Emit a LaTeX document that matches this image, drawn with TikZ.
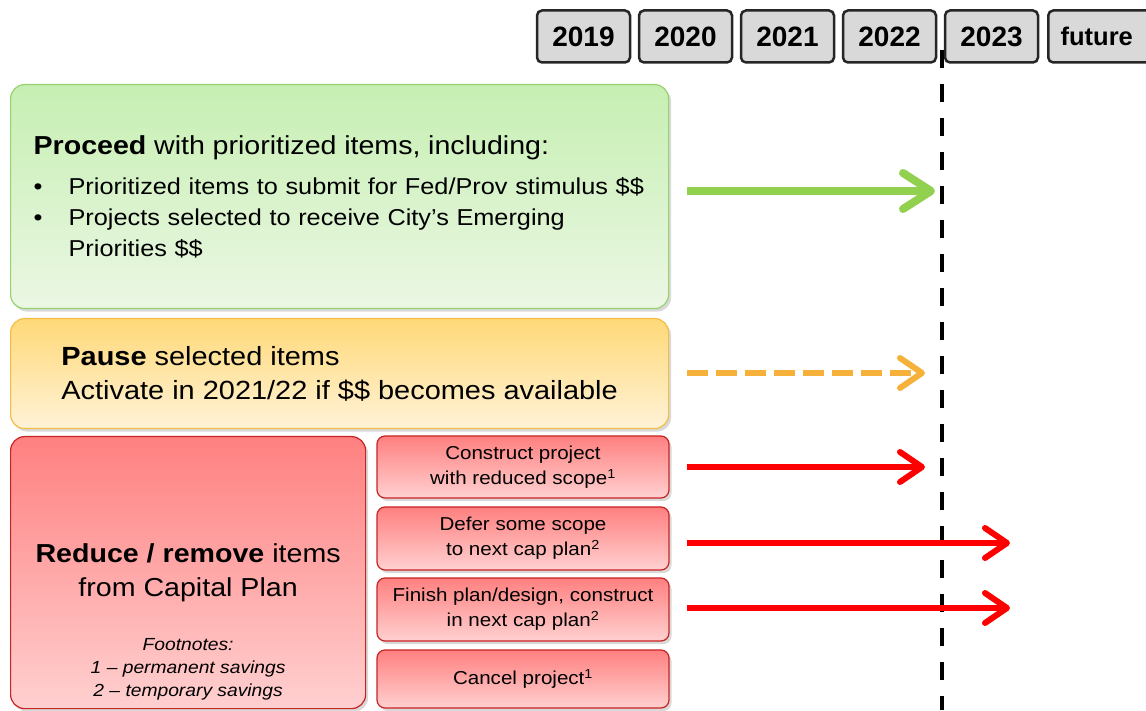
\documentclass[tikz,border=0pt]{standalone}
\usepackage{fontspec}
\setmainfont{Liberation Sans}
\newfontfamily\widesans{Liberation Sans}[FakeStretch=1.1, Ligatures=TeX]
\usetikzlibrary{arrows.meta, shadows}
\definecolor{yeargray}{RGB}{217,217,217}
\definecolor{leafgreen}{RGB}{146,208,80}
\definecolor{greenedge}{RGB}{150,210,110}
\definecolor{greentop}{RGB}{198,239,178}
\definecolor{greenbot}{RGB}{235,247,228}
\definecolor{amber}{RGB}{246,177,58}
\definecolor{amberedge}{RGB}{245,188,70}
\definecolor{ambertop}{RGB}{255,217,120}
\definecolor{amberbot}{RGB}{255,242,215}
\definecolor{cutred}{RGB}{255,0,0}
\definecolor{rededge}{RGB}{200,35,35}
\definecolor{redtop}{RGB}{255,128,128}
\definecolor{redbot}{RGB}{255,208,208}

\begin{document}
\begin{tikzpicture}[x=1pt, y=1pt,
  yearbox/.style={draw=black!85, line width=2.5pt, fill=yeargray, rounded corners=5pt,
                  minimum width=93pt, minimum height=52pt, inner sep=0pt,
                  font=\fontsize{28}{30}\selectfont\bfseries},
  plan/.style={rounded corners=14pt, line width=1.2pt,
               drop shadow={shadow xshift=2.5pt, shadow yshift=-3pt, opacity=.3}},
  option/.style={plan, rounded corners=8pt, draw=rededge, top color=redtop, bottom color=redbot,
                 minimum width=292pt, minimum height=62pt, align=center,
                 font=\widesans\fontsize{18.7}{25}\selectfont},
  nowline/.style={line width=4pt, black, dash pattern=on 18pt off 16pt},
  go/.style={line width=8pt, leafgreen, shorten <=18pt,
             -{Straight Barb[length=28pt, width=36pt, line cap=round, line join=round]}},
  wait/.style={line width=6pt, amber, shorten <=18pt, dash pattern=on 21pt off 8pt,
               -{Straight Barb[length=22pt, width=30pt, line cap=round, line join=round]}},
  cut/.style={line width=6pt, cutred, shorten <=17pt,
              -{Straight Barb[length=22pt, width=30pt, line cap=round, line join=round]}}
]
\useasboundingbox (0,0) rectangle (1146,710);

% timeline
\draw[nowline] (942,660) -- (942,0);
\foreach \yr [count=\i from 0] in {2019,2020,2021,2022,2023}
  \node[yearbox] (y\yr) at ({583.5+102*\i},673.5) {\yr};
\node[yearbox, minimum width=105pt, anchor=west,
      font=\fontsize{25.5}{27}\selectfont\bfseries] (future) at (1047,673.5) {\hspace*{-8pt}future};

% the three courses of action
\node[plan, draw=greenedge, top color=greentop, bottom color=greenbot, anchor=north west,
      minimum width=658pt, minimum height=224pt, text width=612pt, align=left,
      font=\widesans\fontsize{23}{31}\selectfont] (proceed) at (10,626)
  {{\fontsize{26}{30}\selectfont\textbf{Proceed} with prioritized items, including:}\\[9pt]
   \makebox[35pt][l]{\textbullet}Prioritized items to submit for Fed/Prov stimulus \$\$\\
   \makebox[35pt][l]{\textbullet}Projects selected to receive City’s Emerging\\
   \hspace*{35pt}Priorities \$\$};
\node[plan, draw=amberedge, top color=ambertop, bottom color=amberbot, anchor=north west,
      minimum width=658pt, minimum height=110pt, align=left,
      font=\widesans\fontsize{26.3}{34}\selectfont] (pause) at (10,392)
  {\textbf{Pause} selected items\\ Activate in 2021/22 if \$\$ becomes available};
\node[plan, draw=rededge, top color=redtop, bottom color=redbot, anchor=north west,
      minimum width=355pt, minimum height=272pt, align=center,
      font=\widesans\fontsize{26}{34}\selectfont] (reduce) at (10,274)
  {\textbf{Reduce / remove} items\\ from Capital Plan};
\node[anchor=south, align=center, font=\widesans\fontsize{17.5}{23}\selectfont\itshape]
  (notes) at ([yshift=6pt]reduce.south)
  {Footnotes:\\ 1 -- permanent savings\\ 2 -- temporary savings};

% ways to reduce
\node[option] (construct) at (523,243) {Construct project\\ with reduced scope\textsuperscript{1}};
\node[option, minimum height=63pt] (defer) at (523,171.5) {Defer some scope\\ to next cap plan\textsuperscript{2}};
\node[option, minimum height=63pt] (finish) at (523,100.5) {Finish plan/design, construct\\ in next cap plan\textsuperscript{2}};
\node[option, minimum height=58pt] (cancel) at (523,31) {Cancel project\textsuperscript{1}};

% arrows up to the timeline
\coordinate (go end) at (935,519);
\coordinate (wait end) at (925,337);
\coordinate (cut end) at (925,243);
\coordinate (defer end) at (1010,167);
\coordinate (finish end) at (1010,102);
\draw[go] (proceed.east |- go end) -- (go end);
\draw[wait] (pause.east |- wait end) -- (wait end);
\draw[cut] (construct.east |- cut end) -- (cut end);
\draw[cut] (defer.east |- defer end) -- (defer end);
\draw[cut] (finish.east |- finish end) -- (finish end);
\end{tikzpicture}
\end{document}
